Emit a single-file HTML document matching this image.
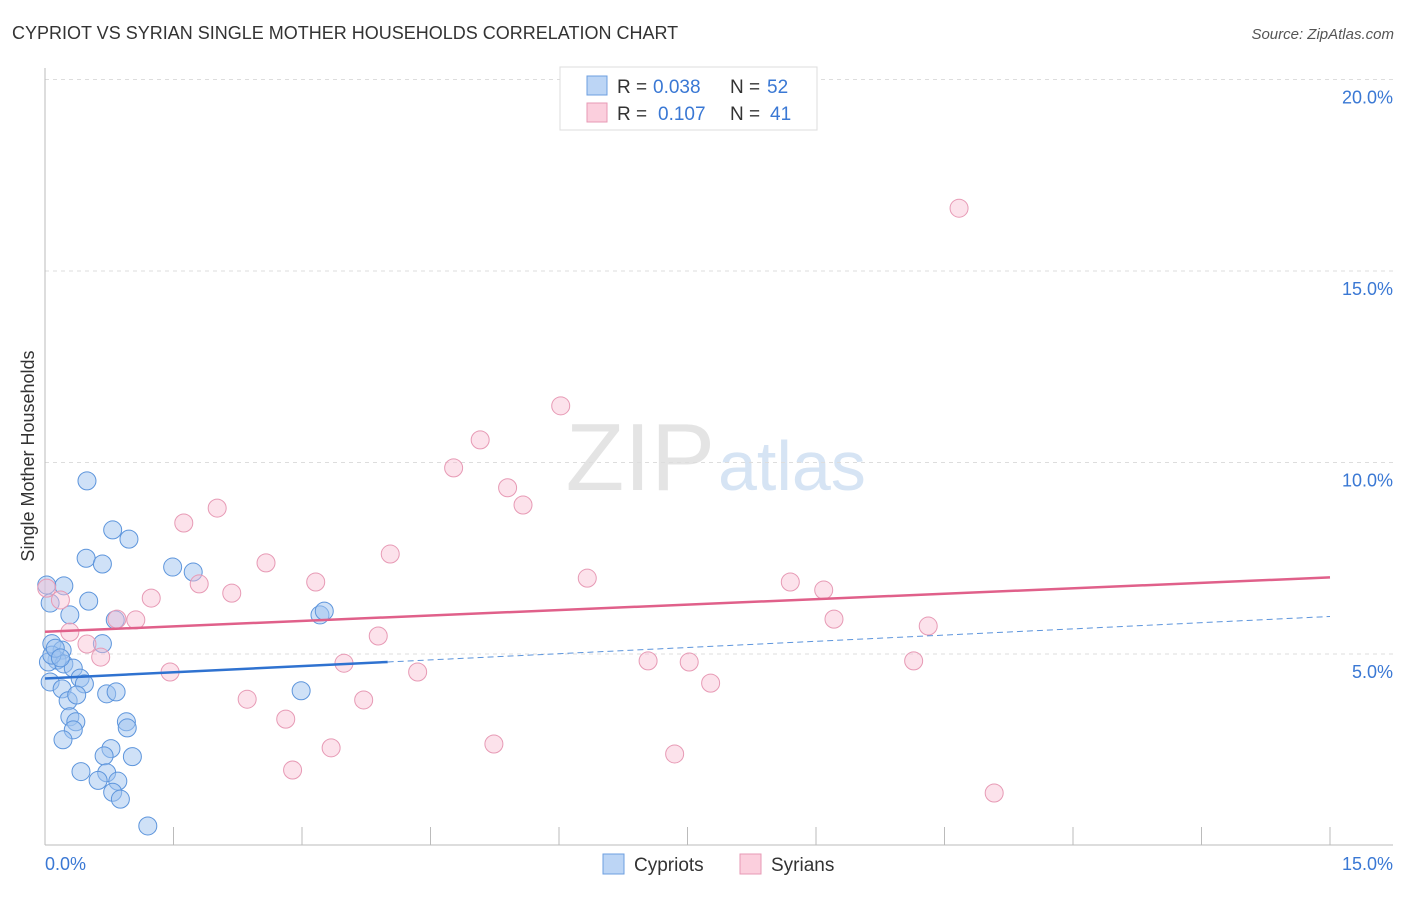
<!DOCTYPE html>
<html><head><meta charset="utf-8">
<style>
body{margin:0;background:#fff;font-family:"Liberation Sans",sans-serif;}
svg text{font-family:"Liberation Sans",sans-serif;}
</style></head>
<body>
<svg id="chart" width="1406" height="892" xmlns="http://www.w3.org/2000/svg">
<text x="12" y="39" font-size="18" fill="#333">CYPRIOT VS SYRIAN SINGLE MOTHER HOUSEHOLDS CORRELATION CHART</text>
<text x="1394" y="39" font-size="15" fill="#555" font-style="italic" text-anchor="end">Source: ZipAtlas.com</text>
<text x="715" y="490" font-size="96" fill="#e4e4e4" font-family="Liberation Serif" text-anchor="end">ZIP</text>
<text x="718" y="490" font-size="70" fill="#d6e4f4">atlas</text>
<g id="grid"></g>
<g id="axes"></g>
<g id="marks"></g>
<text transform="translate(34,456) rotate(-90)" font-size="18" fill="#333" text-anchor="middle">Single Mother Households</text>
<text x="45" y="870" font-size="18" fill="#3a78d4">0.0%</text>
<text x="1393" y="870" font-size="18" fill="#3a78d4" text-anchor="end">15.0%</text>
<g>
<rect x="560" y="67" width="257" height="63" fill="#fff" stroke="#ddd"/>
<rect x="587" y="76" width="20" height="19" fill="#bcd5f5" stroke="#6d9fe0"/>
<rect x="587" y="103" width="20" height="19" fill="#fbcfdd" stroke="#e79ab5"/>
<text x="617" y="93" font-size="19" fill="#333">R =</text>
<text x="653" y="93" font-size="19" fill="#3a78d4">0.038</text>
<text x="730" y="93" font-size="19" fill="#333">N =</text>
<text x="767" y="93" font-size="19" fill="#3a78d4">52</text>
<text x="617" y="120" font-size="19" fill="#333">R =</text>
<text x="658" y="120" font-size="19" fill="#3a78d4">0.107</text>
<text x="730" y="120" font-size="19" fill="#333">N =</text>
<text x="770" y="120" font-size="19" fill="#3a78d4">41</text>
</g>
<g>
<rect x="603" y="854" width="21" height="20" fill="#bcd5f5" stroke="#6d9fe0"/>
<text x="634" y="871" font-size="19" fill="#333">Cypriots</text>
<rect x="740" y="854" width="21" height="20" fill="#fbcfdd" stroke="#e79ab5"/>
<text x="771" y="871" font-size="19" fill="#333">Syrians</text>
</g>
</svg>
<script>
const yTicks=[5,10,15,20];
const yTickLabels=["5.0%","10.0%","15.0%","20.0%"];
const xTicks=[0,1.5,3,4.5,6,7.5,9,10.5,12,13.5,15];
const cypX=[0.49,0.79,0.98,0.48,0.67,1.49,1.73,0.22,0.02,0.06,0.51,0.29,0.82,3.21,3.26,0.08,0.67,0.20,0.14,0.04,0.22,0.33,0.41,0.06,0.46,0.20,0.27,0.37,0.72,0.83,2.99,0.29,0.36,0.95,0.96,0.33,0.21,0.77,0.69,1.02,0.42,0.72,0.62,0.85,0.79,0.88,1.20,0.08,0.12,0.18];
const cypY=[9.52,8.24,8.00,7.50,7.35,7.27,7.14,6.78,6.80,6.33,6.38,6.02,5.89,6.02,6.12,5.27,5.27,5.10,4.84,4.79,4.74,4.63,4.37,4.27,4.22,4.09,3.78,3.93,3.96,4.01,4.04,3.36,3.23,3.23,3.07,3.02,2.76,2.53,2.34,2.32,1.93,1.90,1.70,1.68,1.39,1.21,0.51,4.97,5.15,4.90];
const syrX=[10.67,6.02,5.08,4.77,5.40,5.58,2.01,1.62,4.03,2.58,6.33,1.80,3.16,2.18,8.70,9.09,1.24,0.02,0.18,0.84,1.06,9.21,10.31,0.29,3.89,0.49,0.65,7.04,7.52,10.14,3.49,1.46,4.35,7.77,2.36,3.72,2.81,3.34,5.24,7.35,2.89,11.08];
const syrY=[16.64,11.48,10.59,9.86,9.34,8.89,8.81,8.42,7.61,7.38,6.98,6.83,6.88,6.59,6.88,6.67,6.46,6.72,6.41,5.91,5.89,5.91,5.73,5.57,5.47,5.26,4.92,4.82,4.79,4.82,4.76,4.53,4.53,4.24,3.82,3.80,3.30,2.55,2.65,2.39,1.97,1.37];
const cypTrend=[4.36,5.98];
const syrTrend=[5.58,7.0];
const cypSolidEnd=4.0;

const NS="http://www.w3.org/2000/svg";
const X=v=>45+v/15*1285;
const Y=v=>845.5-v*38.3;
function mk(tag,attrs,parent){const e=document.createElementNS(NS,tag);for(const k in attrs)e.setAttribute(k,attrs[k]);parent.appendChild(e);return e;}
const grid=document.getElementById('grid'),axes=document.getElementById('axes'),marks=document.getElementById('marks');
yTicks.forEach((t,i)=>{
  const l=mk('line',{x1:45,x2:1393,y1:Y(t),y2:Y(t),stroke:'#ddd','stroke-dasharray':'4,4'},grid);
  
  
  const tx=mk('text',{x:1393,y:Y(t)+24,'font-size':18,fill:'#3a78d4','text-anchor':'end'},grid);
  tx.textContent=yTickLabels[i];
  
  
});
const ya=mk('line',{x1:45,x2:45,y1:68,y2:845,stroke:'#bbb'},axes);


const xa=mk('line',{x1:45,x2:1393,y1:845,y2:845,stroke:'#bbb'},axes);


xTicks.forEach(t=>{
  const l=mk('line',{x1:X(t),x2:X(t),y1:827,y2:845,stroke:'#bbb'},axes);
  
  
});
cypX.forEach((v,i)=>{
  const c=mk('circle',{cx:X(v),cy:Y(cypY[i]),r:9,fill:'rgba(160,196,240,0.5)',stroke:'#5d95dc','stroke-width':1},marks);
  
  
});
syrX.forEach((v,i)=>{
  const c=mk('circle',{cx:X(v),cy:Y(syrY[i]),r:9,fill:'rgba(248,190,210,0.45)',stroke:'#e79ab5','stroke-width':1},marks);
  
  
});
const cy=x=>cypTrend[0]+(cypTrend[1]-cypTrend[0])*x/15;
const l1=mk('line',{x1:X(0),y1:Y(cy(0)),x2:X(cypSolidEnd),y2:Y(cy(cypSolidEnd)),stroke:'#2f72d0','stroke-width':2.5},marks);


const l2=mk('line',{x1:X(cypSolidEnd),y1:Y(cy(cypSolidEnd)),x2:X(15),y2:Y(cy(15)),stroke:'#5d95dc','stroke-width':1,'stroke-dasharray':'6,4'},marks);


const l3=mk('line',{x1:X(0),y1:Y(syrTrend[0]),x2:X(15),y2:Y(syrTrend[1]),stroke:'#e0608a','stroke-width':2.5},marks);


</script>
</body></html>
